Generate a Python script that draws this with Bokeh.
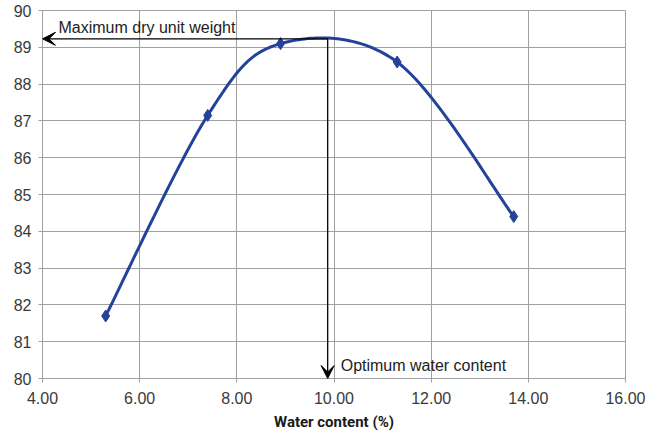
import numpy as np
from bokeh.plotting import figure
from bokeh.models import (FixedTicker, NumeralTickFormatter, Arrow, VeeHead,
                          Label)
from bokeh.embed import file_html
from bokeh.resources import INLINE

# data
water = [5.3, 7.4, 8.9, 11.3, 13.7]
dry_weight = [81.7, 87.15, 89.1, 88.6, 84.4]
x_ticks = [4, 6, 8, 10, 12, 14, 16]
y_ticks = [80, 81, 82, 83, 84, 85, 86, 87, 88, 89, 90]
opt_water = 9.87
max_weight = 89.23
x_title = "Water content (%)"
max_label = "Maximum dry unit weight"
opt_label = "Optimum water content"


def smooth(xs, ys, n=40):
    P = np.column_stack([xs, ys]).astype(float)
    pts = []
    m = len(P)
    for i in range(m - 1):
        p0 = P[i - 1] if i > 0 else P[i]
        p1 = P[i]
        p2 = P[i + 1]
        p3 = P[i + 2] if i + 2 < m else P[i + 1]
        c1 = p1 + (p2 - p0) / 6.0
        c2 = p2 - (p3 - p1) / 6.0
        t = np.linspace(0, 1, n)[:, None]
        seg = ((1 - t) ** 3) * p1 + 3 * ((1 - t) ** 2) * t * c1 + 3 * (1 - t) * t ** 2 * c2 + t ** 3 * p2
        pts.append(seg if i == 0 else seg[1:])
    s = np.vstack(pts)
    return s[:, 0], s[:, 1]


cx, cy = smooth(water, dry_weight)

p = figure(width=653, height=433, x_range=(4, 16), y_range=(80, 90),
           output_backend="svg", toolbar_location=None,
           min_border_left=42, min_border_right=28, min_border_top=10,
           min_border_bottom=55)
p.background_fill_color = "white"
p.border_fill_color = "white"
p.outline_line_color = "#a0a0a0"

for ax in (p.xaxis[0], p.yaxis[0]):
    ax.axis_line_color = "#a0a0a0"
    ax.major_tick_line_color = "#a0a0a0"
    ax.major_tick_out = 4
    ax.major_tick_in = 0
    ax.minor_tick_line_color = None
    ax.major_label_text_font = "Liberation Sans"
    ax.major_label_text_font_size = "16px"
    ax.major_label_text_color = "#3a3a3a"

p.xaxis.ticker = FixedTicker(ticks=x_ticks)
p.xaxis.formatter = NumeralTickFormatter(format="0.00")
p.yaxis.ticker = FixedTicker(ticks=y_ticks)
p.xaxis.major_label_standoff = 9
p.yaxis.major_label_standoff = 7

p.xaxis.axis_label = x_title
p.xaxis.axis_label_text_font = "Roboto"
p.xaxis.axis_label_text_font_style = "bold"
p.xaxis.axis_label_text_font_size = "15px"
p.xaxis.axis_label_text_color = "#1a1a1a"
p.xaxis.axis_label_standoff = 6

p.xgrid.ticker = FixedTicker(ticks=x_ticks)
p.ygrid.ticker = FixedTicker(ticks=y_ticks)
p.grid.grid_line_color = "#a0a0a0"
p.grid.grid_line_width = 1

blue = "#23439b"
p.line(cx, cy, line_color=blue, line_width=3)
p.scatter(water, dry_weight, marker="diamond", size=12, fill_color=blue, line_color=blue)

head1 = VeeHead(size=13, fill_color="black", line_color="black")
p.add_layout(Arrow(end=head1, x_start=opt_water, y_start=max_weight,
                   x_end=4.0, y_end=max_weight, line_color="black", line_width=1.3))
head2 = VeeHead(size=13, fill_color="black", line_color="black")
p.add_layout(Arrow(end=head2, x_start=opt_water, y_start=max_weight,
                   x_end=opt_water, y_end=80.0, line_color="black", line_width=1.3))

p.add_layout(Label(x=4.0, y=max_weight, text=max_label, x_offset=16,
                   text_font="Liberation Sans", text_font_size="16px",
                   text_color="#222222", y_offset=3, text_baseline="bottom"))
p.add_layout(Label(x=opt_water, y=80, text=opt_label, x_offset=13, y_offset=5,
                   text_font="Liberation Sans", text_font_size="16px",
                   text_color="#222222", text_baseline="bottom"))

open("out.html", "w").write(file_html(p, INLINE))
